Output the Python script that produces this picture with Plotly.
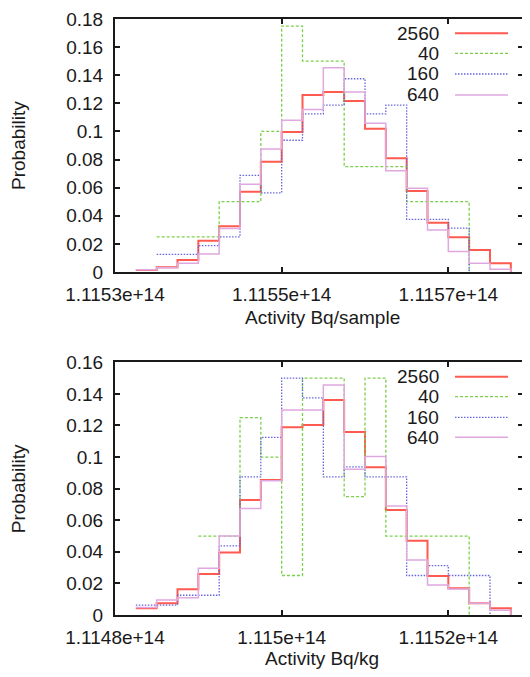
import plotly.graph_objects as go

# page is 530x677; the html body adds an 8px margin on every side.
PAGE_OFF = 8
W, H = 530 - PAGE_OFF, 677 - 2 * PAGE_OFF

# ---------------- data ----------------
series_names = ["2560", "40", "160", "640"]

top_bin_edges = [1.115325e14, 1.11535e14, 1.115375e14, 1.1154e14, 1.115425e14, 1.11545e14,
                 1.115475e14, 1.1155e14, 1.115525e14, 1.11555e14, 1.115575e14, 1.1156e14,
                 1.115625e14, 1.11565e14, 1.115675e14, 1.1157e14, 1.115725e14, 1.11575e14,
                 1.115775e14]
top_2560 = [0.0014, 0.0033, 0.0085, 0.0223, 0.0325, 0.0571, 0.0785, 0.0996, 0.126, 0.128,
            0.1217, 0.102, 0.081, 0.0576, 0.0351, 0.0247, 0.0157, 0.0062]
top_40 = [None, 0.025, 0.025, 0.025, 0.05, 0.05, 0.1, 0.175, 0.15, 0.15,
          0.075, 0.075, 0.075, 0.05, 0.05, 0.05, None, None]
top_160 = [None, 0.0125, 0.0125, 0.01875, 0.025, 0.06875, 0.05625, 0.09375, 0.1125, 0.11875,
           0.1375, 0.1125, 0.11875, 0.0375, 0.0375, 0.03125, None, None]
top_640 = [0.0016, 0.003, 0.0062, 0.0128, 0.031, 0.0625, 0.0875, 0.108, 0.1157, 0.1453,
           0.128, 0.1058, 0.072, 0.0595, 0.0299, 0.0145, 0.0062, 0.002]

bot_bin_edges = [1.114825e14, 1.11485e14, 1.114875e14, 1.1149e14, 1.114925e14, 1.11495e14,
                 1.114975e14, 1.115e14, 1.115025e14, 1.11505e14, 1.115075e14, 1.1151e14,
                 1.115125e14, 1.11515e14, 1.115175e14, 1.1152e14, 1.115225e14, 1.11525e14,
                 1.115275e14]
bot_2560 = [0.0042, 0.0074, 0.0163, 0.026, 0.0395, 0.0728, 0.0855, 0.1189, 0.1203, 0.1362,
            0.1159, 0.0935, 0.0665, 0.047, 0.0247, 0.0169, 0.0074, 0.0042]
bot_40 = [None, None, None, 0.05, 0.05, 0.125, 0.1, 0.025, 0.15, 0.15,
          0.075, 0.15, 0.05, 0.05, 0.05, 0.05, None, None]
bot_160 = [0.00625, 0.00625, 0.0125, 0.0125, 0.04375, 0.0875, 0.1125, 0.15, 0.1375, 0.0875,
           0.09375, 0.0875, 0.0875, 0.025, 0.03125, 0.025, 0.025, None]
bot_640 = [0.0047, 0.0095, 0.011, 0.0296, 0.05, 0.0675, 0.085, 0.1298, 0.1298, 0.1457,
           0.0923, 0.1003, 0.069, 0.0348, 0.019, 0.0165, 0.0075, 0.003]

top_xticks = [1.1153e14, 1.1155e14, 1.1157e14]
top_xtick_labels = ["1.1153e+14", "1.1155e+14", "1.1157e+14"]
bot_xticks = [1.1148e14, 1.115e14, 1.1152e14]
bot_xtick_labels = ["1.1148e+14", "1.115e+14", "1.1152e+14"]

top_xtitle = "Activity Bq/sample"
bot_xtitle = "Activity Bq/kg"
ytitle = "Probability"

# ---------------- styles ----------------
colors = ["#ff5a50", "#7ccf4c", "#6666dd", "#dfa8df"]
dashes = ["solid", "3px,2px", "1.5px,1.5px", "solid"]
widths = [2.0, 1.3, 1.3, 1.5]
FONT = "Liberation Sans, Arial, sans-serif"
FS = 19
INK = "#1a1a1a"


def fx(px):
    """page x pixel -> paper fraction"""
    return (px - PAGE_OFF) / W


def fy(py):
    """page y pixel -> paper fraction"""
    return 1 - (py - PAGE_OFF) / H


def step_xy(edges, vals):
    idx = [i for i, v in enumerate(vals) if v is not None]
    s, e = idx[0], idx[-1]
    xs = edges[s:e + 2]
    ys = list(vals[s:e + 1]) + [0]
    return xs, ys


fig = go.Figure()

panels = [
    ("x", "y", top_bin_edges, [top_2560, top_40, top_160, top_640]),
    ("x2", "y2", bot_bin_edges, [bot_2560, bot_40, bot_160, bot_640]),
]
for xa, ya, edges, series in panels:
    for k, vals in enumerate(series):
        xs, ys = step_xy(edges, vals)
        fig.add_trace(go.Scatter(
            x=xs, y=ys, mode="lines", name=series_names[k], showlegend=False,
            line=dict(shape="hv", color=colors[k], dash=dashes[k], width=widths[k]),
            xaxis=xa, yaxis=ya, hoverinfo="skip"))

# empty traces so the mirrored right-hand tick axes are always drawn
for xa, ya in [("x", "y3"), ("x2", "y4")]:
    fig.add_trace(go.Scatter(x=[], y=[], mode="lines", showlegend=False,
                             xaxis=xa, yaxis=ya, hoverinfo="skip"))

px_per_unit = 166.667 / 2e10
left_px, right_px = 115, 522   # visible right edge of the page


def xrange(x0):
    return [x0, x0 + (right_px - left_px) / px_per_unit]


common_x = dict(ticks="inside", ticklen=5, tickwidth=1.5, tickcolor=INK,
                showline=True, linewidth=2, linecolor=INK, mirror="ticks",
                showgrid=False, zeroline=False, automargin=False,
                tickfont=dict(family=FONT, size=FS, color=INK), ticklabelstandoff=4)
common_y = dict(ticks="inside", ticklen=5, tickwidth=1.5, tickcolor=INK,
                showline=True, linewidth=2, linecolor=INK, mirror=False,
                showgrid=False, zeroline=False, tick0=0, dtick=0.02, automargin=False,
                tickfont=dict(family=FONT, size=FS, color=INK), ticklabelstandoff=6)
mirror_y = dict(ticks="inside", ticklen=4, tickwidth=1.5, tickcolor=INK,
                showline=False, showticklabels=False, showgrid=False, zeroline=False,
                tick0=0, dtick=0.02, side="right", automargin=False)

top_dom = [fy(272), fy(19)]
bot_dom = [fy(615), fy(362.3)]

fig.update_layout(
    width=W, height=H, margin=dict(l=0, r=0, t=0, b=0, pad=0, autoexpand=False),
    paper_bgcolor="white", plot_bgcolor="white", showlegend=False,
    xaxis=dict(domain=[fx(left_px), fx(right_px)], anchor="y", range=xrange(1.1153e14),
               tickvals=top_xticks, ticktext=top_xtick_labels, **common_x),
    yaxis=dict(domain=top_dom, anchor="x", range=[0, 0.18], **common_y),
    yaxis3=dict(overlaying="y", anchor="x", range=[0, 0.18], **mirror_y),
    xaxis2=dict(domain=[fx(left_px), fx(right_px)], anchor="y2", range=xrange(1.1148e14),
                tickvals=bot_xticks, ticktext=bot_xtick_labels, **common_x),
    yaxis2=dict(domain=bot_dom, anchor="x2", range=[0, 0.16], **common_y),
    yaxis4=dict(overlaying="y2", anchor="x2", range=[0, 0.16], **mirror_y),
)

annotations = []
shapes = []
# axis titles
for title, ypx in [(top_xtitle, 318), (bot_xtitle, 658)]:
    annotations.append(dict(text=title, x=fx(322), y=fy(ypx), xref="paper", yref="paper",
                            xanchor="center", yanchor="middle", showarrow=False,
                            font=dict(family=FONT, size=FS, color=INK)))
for ypx in [145.5, 488.7]:
    annotations.append(dict(text=ytitle, x=fx(18.5), y=fy(ypx), xref="paper", yref="paper",
                            xanchor="center", yanchor="middle", showarrow=False, textangle=-90,
                            font=dict(family=FONT, size=FS, color=INK)))

# legends (text right-aligned, sample line to the right, as in the original)
for rows in ([33.3, 53.3, 74, 95], [376.7, 396.7, 417.3, 437.3]):
    for k, ypx in enumerate(rows):
        annotations.append(dict(text=series_names[k], x=fx(441), y=fy(ypx), xref="paper",
                                yref="paper", xanchor="right", yanchor="middle",
                                showarrow=False, font=dict(family=FONT, size=FS, color=INK)))
        shapes.append(dict(type="line", xref="paper", yref="paper",
                           x0=fx(455), x1=fx(508), y0=fy(ypx), y1=fy(ypx),
                           line=dict(color=colors[k], width=widths[k], dash=dashes[k])))

fig.update_layout(annotations=annotations, shapes=shapes)

fig.write_html("out.html")
